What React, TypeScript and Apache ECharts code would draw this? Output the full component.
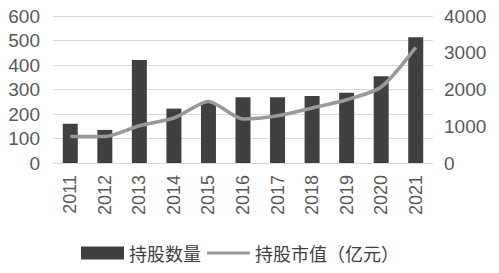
import React, { useEffect, useRef } from "react";
import * as echarts from "echarts";

const years = ["2011", "2012", "2013", "2014", "2015", "2016", "2017", "2018", "2019", "2020", "2021"];
const holdingsCount = [160, 135, 420, 222, 245, 268, 268, 273, 287, 354, 513];
const holdingsValue = [724, 720, 1015, 1224, 1676, 1197, 1287, 1497, 1722, 2068, 3146];
const leftTicks = [0, 600, 100];
const rightTicks = [0, 4000, 1000];

export default function App() {
  const ref = useRef<HTMLDivElement>(null);
  useEffect(() => {
    if (!ref.current) return;
    const chart = echarts.init(ref.current, undefined, { renderer: "svg" });
    const font = "'Liberation Sans', Arial, sans-serif";
    const cjk = "'Noto Sans CJK SC', sans-serif";
    chart.setOption({
      animation: false,
      backgroundColor: "#ffffff",
      grid: { left: 53, right: 66, top: 16, bottom: 110, containLabel: false },
      legend: {
        left: 76,
        top: 239,
        itemWidth: 43,
        itemHeight: 13,
        itemGap: 6,
        symbolKeepAspect: true,
        textStyle: { fontFamily: cjk, fontSize: 18, color: "#404040" },
        data: [
          { name: "持股数量", icon: "rect" },
          { name: "持股市值（亿元）", icon: "path://M0,0 L46,0 L46,3 L0,3 Z" },
        ],
      },
      xAxis: {
        type: "category",
        data: years,
        axisLine: { show: true, lineStyle: { color: "#d9d9d9", width: 1 } },
        axisTick: { show: false },
        axisLabel: { rotate: 90, fontFamily: font, fontSize: 18, color: "#595959", margin: 12 },
      },
      yAxis: [
        {
          type: "value",
          min: leftTicks[0],
          max: leftTicks[1],
          interval: leftTicks[2],
          axisLine: { show: false },
          axisTick: { show: false },
          splitLine: { lineStyle: { color: "#d9d9d9", width: 1 } },
          axisLabel: { fontFamily: font, fontSize: 19, color: "#595959", margin: 13 },
        },
        {
          type: "value",
          min: rightTicks[0],
          max: rightTicks[1],
          interval: rightTicks[2],
          axisLine: { show: false },
          axisTick: { show: false },
          splitLine: { show: false },
          axisLabel: {
            fontFamily: font,
            fontSize: 19,
            color: "#595959",
            margin: 11,
            formatter: (v: number) => String(v),
          },
        },
      ],
      series: [
        {
          name: "持股数量",
          type: "bar",
          data: holdingsCount,
          barWidth: 15,
          itemStyle: { color: "#404040" },
          yAxisIndex: 0,
        },
        {
          name: "持股市值（亿元）",
          type: "line",
          data: holdingsValue,
          yAxisIndex: 1,
          smooth: 0.25,
          symbol: "none",
          lineStyle: { color: "#999999", width: 3.5 },
          itemStyle: { color: "#999999" },
        },
      ],
    });
    return () => chart.dispose();
  }, []);
  return <div ref={ref} style={{ width: 499, height: 273, position: "absolute", left: 0, top: 0 }} />;
}
